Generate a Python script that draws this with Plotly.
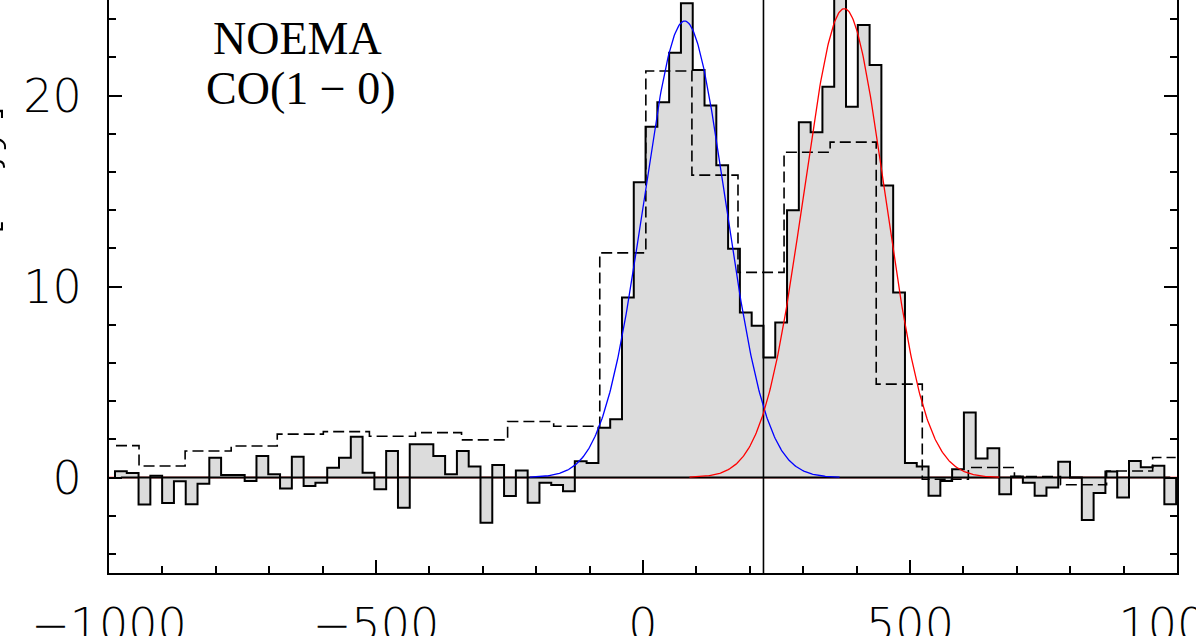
import numpy as np
import plotly.graph_objects as go

# ---------------- data ----------------
# solid spectrum: channel width and first channel left edge (km/s)
chan_first_edge = -988.8
chan_width = 22.08
flux = [
    0.33, 0.23, -1.42, 0.09, -1.33, -0.20, -1.40, -0.33, 1.04, 0.13,
    0.13, -0.18, 1.13, 0.17, -0.57, 1.09, -0.45, -0.27, 0.51, 1.04,
    2.14, 0.25, -0.62, 1.39, -1.58, 1.74, 1.74, 1.13, 0.17, 1.39,
    0.57, -2.37, 0.66, -0.97, 0.36, -1.32, -0.27, -0.39, -0.72, 0.85,
    0.76, 2.61, 3.05, 9.43, 15.46, 18.36, 19.65, 22.24, 24.83, 21.33,
    19.48, 16.35, 11.97, 8.64, 7.94, 6.28, 8.12, 13.99, 18.60, 18.08,
    20.46, 26.50, 19.41, 23.69, 21.60, 15.29, 9.69, 0.76, 0.57, -0.96,
    -0.18, 0.43, 3.40, 1.00, 1.53, -0.88, 0.05, -0.27, -0.96, -0.53,
    0.83, 0.00, -2.23, -0.81, 0.31, -1.05, 0.86, 0.54, 0.61, -1.40,
]

# dashed (low resolution) spectrum: first channel centre and width (km/s)
low_first_center = -986.9
low_width = 86.28
flux_low = [
    1.67, 0.60, 1.39, 1.65, 2.27, 2.40, 2.16, 2.35, 1.97, 2.93,
    2.68, 11.76, 21.28, 15.83, 10.74, 17.03, 17.56, 4.89, -0.09, 0.52,
    0.05, -0.38, 0.34, 1.05,
]

# Gaussian fits: amplitude [mJy], centre [km/s], FWHM [km/s]
blue_fit = dict(amp=23.9, center=78.0, fwhm=180.0)
red_fit = dict(amp=24.55, center=377.0, fwhm=179.0)
fit_halfrange = 290.0

v_marker = 225.6          # vertical reference line (km/s)
x_ticks = [-1000, -500, 0, 500, 1000]
y_ticks = [0, 10, 20]
label_lines = ["NOEMA", "CO(1 \u2212 0)"]

# ---------------- build figure ----------------
n = len(flux)
edges = [chan_first_edge + i * chan_width for i in range(n + 1)]
centers = [e + chan_width / 2 for e in edges[:-1]]

hx = [edges[0]] + edges[:-1] + [edges[-1], edges[-1]]
hy = [0.0] + list(flux) + [flux[-1], 0.0]

m = len(flux_low)
lc = [low_first_center + j * low_width for j in range(m)]
dx = [lc[0]] + [c - low_width / 2 for c in lc[1:]] + [lc[-1]]
dy = list(flux_low) + [flux_low[-1]]


def gauss(p):
    x = np.linspace(p["center"] - fit_halfrange, p["center"] + fit_halfrange, 400)
    s = p["fwhm"] / (2 * np.sqrt(2 * np.log(2)))
    return x, p["amp"] * np.exp(-0.5 * ((x - p["center"]) / s) ** 2)


fig = go.Figure()
fig.add_trace(go.Scatter(x=[-1000, 1000], y=[0, 0], mode="lines",
                         line=dict(color="red", width=1.4), hoverinfo="skip"))
fig.add_trace(go.Scatter(x=hx, y=hy, mode="lines", line_shape="hv",
                         fill="tozeroy", fillcolor="#dcdcdc",
                         line=dict(color="black", width=2)))
fig.add_trace(go.Scatter(x=dx, y=dy, mode="lines", line_shape="hv",
                         line=dict(color="black", width=1.6, dash="11px,5px")))
fig.add_trace(go.Scatter(x=[centers[0], centers[-1]], y=[0, 0], mode="lines",
                         line=dict(color="black", width=2.2)))
fig.add_trace(go.Scatter(x=[v_marker, v_marker], y=[-10, 40], mode="lines",
                         line=dict(color="black", width=1.6)))
bx, by = gauss(blue_fit)
rx, ry = gauss(red_fit)
fig.add_trace(go.Scatter(x=bx, y=by, mode="lines", line=dict(color="blue", width=1.3)))
fig.add_trace(go.Scatter(x=rx, y=ry, mode="lines", line=dict(color="red", width=1.3)))

W, H = 1196, 636
ml, mr, mt, mb = 109, 19, 0, 63
pw, ph = W - ml - mr, H - mt - mb


def px2paper(px, py):
    return (px - ml) / pw, (H - mb - py) / ph


tickfont = dict(family="DejaVu Sans", size=46, color="black", weight=200)
axis_common = dict(
    ticks="inside", ticklen=13, tickwidth=1.5, tickcolor="black",
    showline=True, linewidth=2, linecolor="black",
    showgrid=False, zeroline=False, tickfont=tickfont,
    ticklabeloverflow="allow",
)

fig.update_layout(
    template="none",
    width=W, height=H,
    margin=dict(l=ml, r=mr, t=mt, b=mb, pad=0),
    paper_bgcolor="white", plot_bgcolor="white",
    showlegend=False,
    xaxis=dict(range=[-1000, 1000], tickvals=x_ticks, mirror=False,
               ticklabelstandoff=11,
               minor=dict(dtick=100, tick0=0, ticks="inside", ticklen=7,
                          tickwidth=1.5, tickcolor="black"),
               **axis_common),
    yaxis=dict(range=[-5, 25.0], tickvals=y_ticks, mirror="ticks",
               ticklabelstandoff=16,
               minor=dict(dtick=2, tick0=0, ticks="inside", ticklen=7,
                          tickwidth=1.5, tickcolor="black"),
               **axis_common),
)

ax1, ay1 = px2paper(297.5, 38)
ax2, ay2 = px2paper(300, 89)
for (txt, xx, yy) in [(label_lines[0], ax1, ay1), (label_lines[1], ax2, ay2)]:
    fig.add_annotation(x=xx, y=yy, xref="paper", yref="paper", text=txt,
                       showarrow=False, xanchor="center", yanchor="middle",
                       font=dict(family="Liberation Serif", size=46, color="black"))

tx, ty = px2paper(10, 102)
fig.add_annotation(x=tx, y=ty, xref="paper", yref="paper", text="Flux [mJy]",
                   textangle=-90, showarrow=False, xanchor="right", yanchor="top",
                   font=dict(family="DejaVu Sans", size=50, color="black", weight=200))

fig.write_html("out.html",
               config={"displayModeBar": False},
               post_script="document.body.style.margin='0';document.body.style.padding='0';")
